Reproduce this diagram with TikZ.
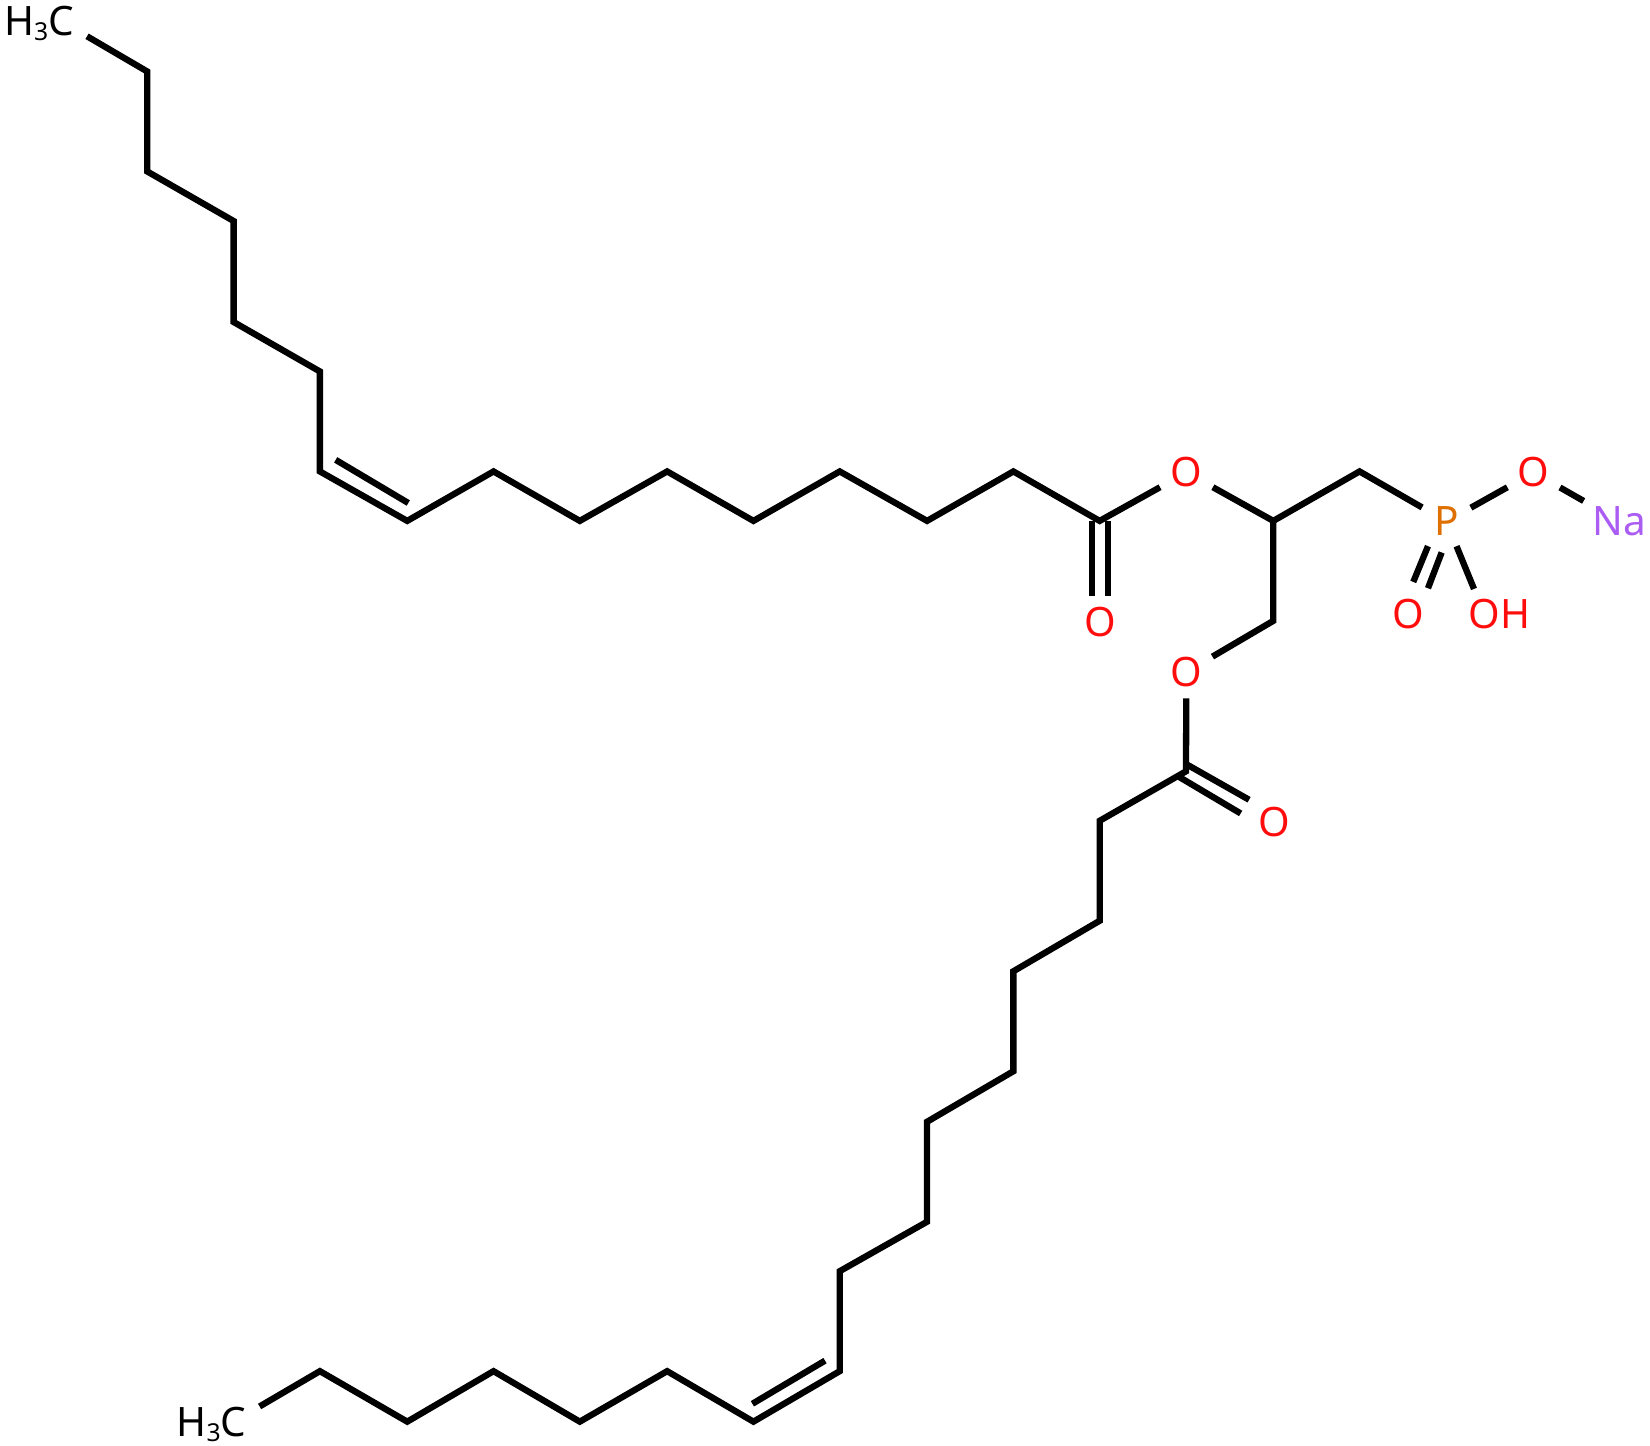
\documentclass[tikz,border=0pt]{standalone}
\usepackage{fontspec}
\setmainfont{Noto Sans}
\usetikzlibrary{shapes.geometric}
\definecolor{oxy}{HTML}{FF0D0D}
\definecolor{pho}{HTML}{DF7000}
\definecolor{sod}{HTML}{AB5CF2}
\newcommand{\tlab}{\fontsize{38.5}{40}\selectfont}
\newcommand{\methyl}{\llap{H{\fontsize{23.5}{25}\selectfont\raisebox{-5pt}{3}}}C}
\tikzset{
  atom/.style={shape=ellipse,inner sep=0pt,minimum width=60pt,minimum height=50pt,font=\tlab,text height=27.5pt,text depth=0pt},
  oatom/.style={atom,text=oxy},
  patom/.style={atom,text=pho,minimum width=54pt,minimum height=50pt},
  naatom/.style={atom,text=sod,minimum width=78pt,minimum height=78pt},
  catom/.style={atom,text=black},
  bond/.style={draw=black,line width=6pt,line join=miter,miter limit=10},
  x=1pt,y=-1pt
}
\begin{document}
\begin{tikzpicture}
\useasboundingbox (0,0) rectangle (1568,1374);
% upper chain
\node[catom] (me1) at (58,20) {\methyl};
\coordinate (a2) at (140,68);
\coordinate (a3) at (140,163);
\coordinate (a4) at (222,210);
\coordinate (a5) at (222,306);
\coordinate (a6) at (304,353);
\coordinate (a7) at (304,448);
\coordinate (a8) at (387,495);
\coordinate (a9) at (469,448);
\coordinate (a10) at (551,495);
\coordinate (a11) at (634,448);
\coordinate (a12) at (716,495);
\coordinate (a13) at (798,448);
\coordinate (a14) at (881,495);
\coordinate (a15) at (963,448);
\coordinate (a16) at (1045,495);
\node[oatom] (o1) at (1127.5,449) {O};
\node[oatom] (o1d) at (1045.5,591.5) {O};
\coordinate (g2) at (1210,495);
\coordinate (g3) at (1292,448);
\coordinate (g1) at (1210,590);
\node[patom] (p) at (1374.5,495.5) {P};
\node[oatom] (op) at (1457.5,449) {O};
\node[naatom] (na) at (1539,495.5) {Na};
\node[oatom] (opd) at (1338.5,583.5) {O};
\node[oatom] (oh) at (1410.5,583.5) {O\rlap{H}};
\node[oatom] (o2) at (1127.5,638.5) {O};
\coordinate (b16) at (1127,733);
\node[oatom] (o2d) at (1210.5,781.5) {O};
% lower chain
\coordinate (b15) at (1045,780);
\coordinate (b14) at (1045,875);
\coordinate (b13) at (963,923);
\coordinate (b12) at (963,1018);
\coordinate (b11) at (881,1066);
\coordinate (b10) at (881,1161);
\coordinate (b9) at (798,1208);
\coordinate (b8) at (798,1303);
\coordinate (b7) at (716,1351);
\coordinate (b6) at (634,1303);
\coordinate (b5) at (551,1351);
\coordinate (b4) at (469,1303);
\coordinate (b3) at (387,1351);
\coordinate (b2) at (304,1303);
\node[catom] (me2) at (222,1351) {\methyl};
% double-bond ends
\coordinate (d1a) at (319,437);
\coordinate (d1b) at (388,478);
\coordinate (d2a) at (784,1293);
\coordinate (d2b) at (715,1334);
\coordinate (c1a) at (1038,495);
\coordinate (c1b) at (1038,566);
\coordinate (c1c) at (1053,495);
\coordinate (c1d) at (1053,566);
\coordinate (c2a) at (1127,726);
\coordinate (c2b) at (1187,760);
\coordinate (c2c) at (1120,738);
\coordinate (c2d) at (1179,773);
\coordinate (p1a) at (1357,519);
\coordinate (p1b) at (1343,553);
\coordinate (p1c) at (1370,525);
\coordinate (p1d) at (1357,559);
% bonds
\draw[bond] (me1) -- (a2) -- (a3) -- (a4) -- (a5) -- (a6) -- (a7) -- (a8) -- (a9) -- (a10) -- (a11) -- (a12) -- (a13) -- (a14) -- (a15) -- (a16) -- (o1);
\draw[bond] (o1) -- (g2) -- (g3) -- (p);
\draw[bond] (g2) -- (g1) -- (o2);
\draw[bond] (p) -- (op);
\draw[bond] (op) -- (na);
\draw[bond] (p) -- (oh);
\draw[bond] (o2) -- (b16) -- (b15) -- (b14) -- (b13) -- (b12) -- (b11) -- (b10) -- (b9) -- (b8) -- (b7) -- (b6) -- (b5) -- (b4) -- (b3) -- (b2) -- (me2);
\draw[bond] (d1a) -- (d1b);
\draw[bond] (d2a) -- (d2b);
\draw[bond] (c1a) -- (c1b);
\draw[bond] (c1c) -- (c1d);
\draw[bond] (c2a) -- (c2b);
\draw[bond] (c2c) -- (c2d);
\draw[bond] (p1a) -- (p1b);
\draw[bond] (p1c) -- (p1d);
\end{tikzpicture}
\end{document}
